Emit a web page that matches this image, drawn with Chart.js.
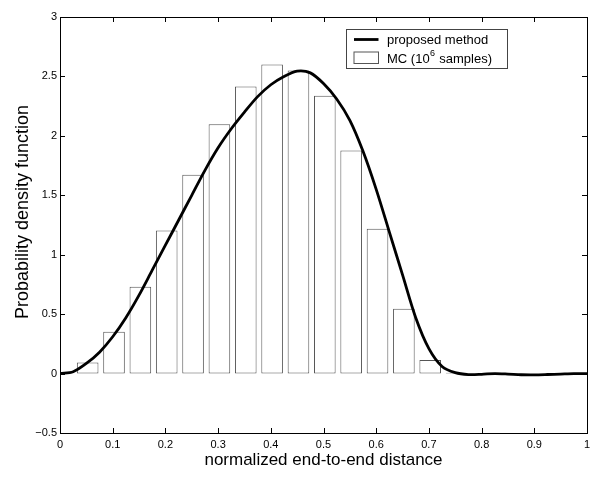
<!DOCTYPE html>
<html>
<head>
<meta charset="utf-8">
<script src="https://cdn.jsdelivr.net/npm/chart.js@4.4.0/dist/chart.umd.min.js"></script>
<style>
  html, body { margin: 0; padding: 0; background: #fff; }
  #wrap { width: 602px; height: 479px; position: relative; }
</style>
</head>
<body>
<div id="wrap"><canvas id="pdfChart"></canvas></div>
<script>
// ---- data ----
// histogram bins (MC, 10^6 samples)
const binCenters = [0.0025, 0.0525, 0.1025, 0.1525, 0.2025, 0.2525, 0.3025, 0.3525,
                    0.4025, 0.4525, 0.5025, 0.5525, 0.6025, 0.6525, 0.7025, 0.7525]
const mcDensity = [0.003, 0.094, 0.352, 0.73, 1.204, 1.673, 2.098, 2.415,
                   2.60, 2.55, 2.337, 1.877, 1.219, 0.546, 0.114, 0.006]

// proposed method curve
const curveX = [0, 0.025, 0.05, 0.075, 0.1, 0.125, 0.15, 0.175, 0.2, 0.225,
                0.25, 0.275, 0.3, 0.325, 0.35, 0.375, 0.4, 0.425, 0.45, 0.475,
                0.5, 0.525, 0.55, 0.575, 0.6, 0.625, 0.65, 0.675, 0.7, 0.725,
                0.75, 0.775, 0.8, 0.825, 0.85, 0.875, 0.9, 0.925, 0.95, 0.975, 1]
const curveY = [0, 0.015, 0.085, 0.18, 0.31, 0.47, 0.66, 0.87, 1.08, 1.29,
                1.50, 1.71, 1.90, 2.06, 2.20, 2.33, 2.43, 2.50, 2.545, 2.53,
                2.44, 2.31, 2.13, 1.87, 1.55, 1.19, 0.83, 0.47, 0.21, 0.06,
                0.008, -0.008, -0.006, 0, -0.004, -0.01, -0.011, -0.008, -0.004, 0, 0]

// axis ticks
const xTickValues = [0, 0.1, 0.2, 0.3, 0.4, 0.5, 0.6, 0.7, 0.8, 0.9, 1]
const yTickValues = [-0.5, 0, 0.5, 1, 1.5, 2, 2.5, 3]

const FONT = "'Liberation Sans', Arial, Helvetica, sans-serif"
Chart.defaults.font.family = FONT
Chart.defaults.color = "#000"

const fmt = (v) => String(+v.toFixed(2)).replace("-", "\u2212")

// MATLAB-like box with inward ticks on all four sides
const boxPlugin = {
  id: "matlabBox",
  afterDatasetsDraw(chart) {
    const { ctx, chartArea: a, scales: { x, y } } = chart
    ctx.save()
    ctx.strokeStyle = "#000"
    ctx.lineWidth = 1
    ctx.strokeRect(Math.round(a.left) + 0.5, Math.round(a.top) + 0.5,
                   Math.round(a.right - a.left), Math.round(a.bottom - a.top))
    ctx.beginPath()
    x.ticks.forEach((t) => {
      const px = Math.round(x.getPixelForValue(t.value)) + 0.5
      ctx.moveTo(px, a.bottom); ctx.lineTo(px, a.bottom - 5)
      ctx.moveTo(px, a.top); ctx.lineTo(px, a.top + 5)
    })
    y.ticks.forEach((t) => {
      const py = Math.round(y.getPixelForValue(t.value)) + 0.5
      ctx.moveTo(a.left, py); ctx.lineTo(a.left + 5, py)
      ctx.moveTo(a.right, py); ctx.lineTo(a.right - 5, py)
    })
    ctx.stroke()
    ctx.restore()
  },
}

// y axis label (sits a little above the axis centre in the original)
const yTitlePlugin = {
  id: "yTitle",
  afterDraw(chart) {
    const { ctx, chartArea: a } = chart
    ctx.save()
    ctx.translate(23, (a.top + a.bottom) / 2 - 13)
    ctx.rotate(-Math.PI / 2)
    ctx.font = "18px " + FONT
    ctx.fillStyle = "#000"
    ctx.textAlign = "center"
    ctx.textBaseline = "middle"
    ctx.fillText("Probability density function", 0, 0)
    ctx.restore()
  },
}

// legend box inside the axes
const legendPlugin = {
  id: "boxLegend",
  afterDraw(chart) {
    const { ctx, chartArea: a } = chart
    const left = a.left + 286.5, top = a.top + 12.5
    ctx.save()
    ctx.fillStyle = "#fff"
    ctx.fillRect(left, top, 161, 39)
    ctx.strokeStyle = "#444"
    ctx.lineWidth = 1
    ctx.strokeRect(left, top, 161, 39)

    // line sample
    ctx.strokeStyle = "#000"
    ctx.lineWidth = 2.8
    ctx.beginPath()
    ctx.moveTo(left + 7.5, top + 10)
    ctx.lineTo(left + 32, top + 10)
    ctx.stroke()

    // bar sample
    ctx.strokeStyle = "#555"
    ctx.lineWidth = 1
    ctx.strokeRect(left + 7.5, top + 22.5, 24.5, 11.5)

    ctx.fillStyle = "#000"
    ctx.textBaseline = "middle"
    ctx.font = "13px " + FONT
    ctx.fillText("proposed method", left + 40.5, top + 10.5)
    const t1 = "MC (10"
    ctx.fillText(t1, left + 40.5, top + 29.5)
    const w1 = ctx.measureText(t1).width
    ctx.font = "9px " + FONT
    ctx.fillText("6", left + 40.5 + w1 + 0.5, top + 24.5)
    const w2 = ctx.measureText("6").width
    ctx.font = "13px " + FONT
    ctx.fillText(" samples)", left + 40.5 + w1 + w2 + 1, top + 29.5)
    ctx.restore()
  },
}

const ctx = document.getElementById("pdfChart").getContext("2d")

new Chart(ctx, {
  data: {
    datasets: [
      {
        type: "line",
        label: "proposed method",
        data: curveX.map((x, i) => ({ x: x, y: curveY[i] })),
        borderColor: "#000",
        borderWidth: 2.8,
        pointRadius: 0,
        tension: 0.3,
        fill: false,
        order: 0,
      },
      {
        type: "bar",
        label: "MC (10^6 samples)",
        data: binCenters.map((x, i) => ({ x: x, y: mcDensity[i] })),
        backgroundColor: "#fff",
        borderColor: "#555",
        borderWidth: 1,
        borderSkipped: false,
        categoryPercentage: 1,
        barPercentage: 0.82,
        order: 1,
      },
    ],
  },
  options: {
    responsive: true,
    maintainAspectRatio: false,
    animation: false,
    layout: { padding: { top: 17, right: 15, bottom: 0, left: 0 } },
    plugins: {
      legend: { display: false },
      tooltip: { enabled: false },
    },
    scales: {
      x: {
        type: "linear",
        min: 0,
        max: 1,
        offset: false,
        grid: { display: false, drawTicks: false, offset: false },
        border: { display: false },
        afterBuildTicks: (scale) => { scale.ticks = xTickValues.map((v) => ({ value: v })) },
        afterFit: (scale) => { scale.height = 46 },
        ticks: {
          font: { size: 11 },
          padding: 5,
          maxRotation: 0,
          autoSkip: false,
          callback: (v) => fmt(v),
        },
        title: {
          display: true,
          text: "normalized end-to-end distance",
          font: { size: 17 },
          padding: { top: 0, bottom: 8 },
        },
      },
      y: {
        type: "linear",
        min: -0.5,
        max: 3,
        grid: { display: false, drawTicks: false },
        border: { display: false },
        afterBuildTicks: (scale) => { scale.ticks = yTickValues.map((v) => ({ value: v })) },
        afterFit: (scale) => { scale.width = 60 },
        ticks: {
          font: { size: 11 },
          padding: 3,
          autoSkip: false,
          callback: (v) => fmt(v),
        },
        title: { display: false },
      },
    },
  },
  plugins: [boxPlugin, yTitlePlugin, legendPlugin],
})
</script>
</body>
</html>
